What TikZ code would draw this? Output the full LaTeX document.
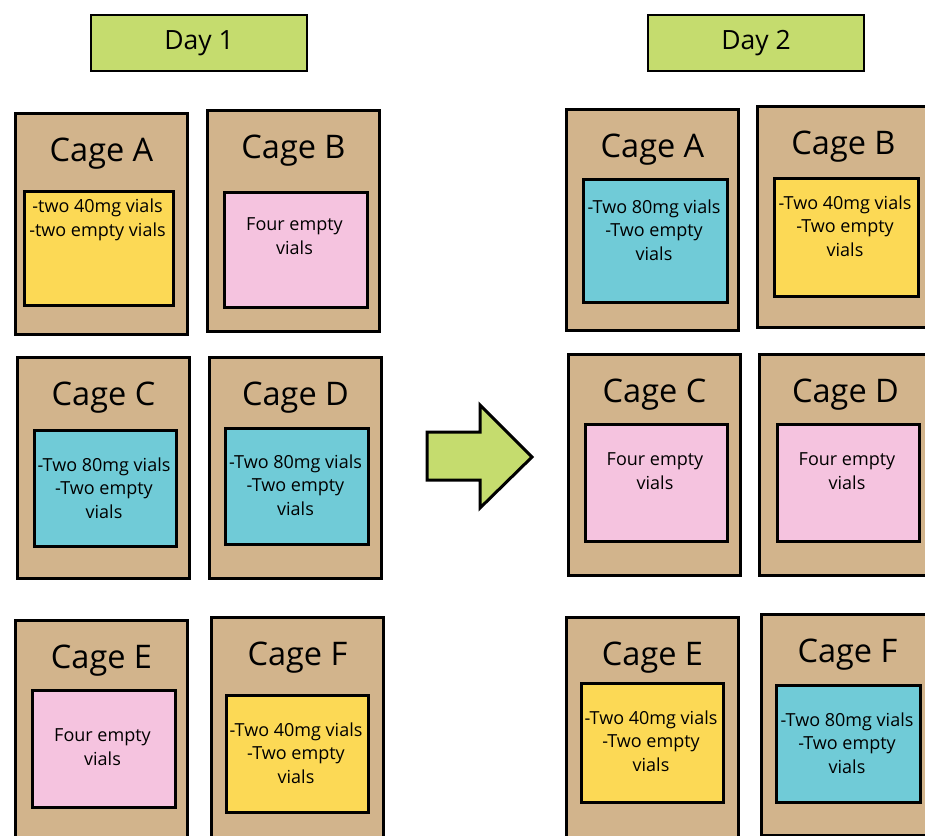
\documentclass[tikz,border=0pt]{standalone}
\usepackage{fontspec}
\setmainfont{Open Sans}
\usepackage{tikz}
\usetikzlibrary{positioning}
\definecolor{tan}{HTML}{D2B48C}
\definecolor{lime}{HTML}{C5DC6E}
\definecolor{sun}{HTML}{FCD955}
\definecolor{rose}{HTML}{F5C3DF}
\definecolor{aqua}{HTML}{70CBD7}
\tikzset{
  cage/.style={draw=black, fill=tan, line width=3pt, anchor=north west,
    minimum width=172pt, minimum height=221pt, inner sep=0pt},
  vial/.style={draw=black, line width=3pt, anchor=north west, inner sep=0pt},
  daybox/.style={draw=black, fill=lime, line width=2.5pt,
    minimum width=216pt, minimum height=56pt, font=\fontsize{26.5}{30}\selectfont},
  title/.style={font=\fontsize{32.5}{38}\selectfont},
  note/.style={align=center, font=\fontsize{18}{23.5}\selectfont},
}

\begin{document}
\begin{tikzpicture}[x=1pt, y=-1pt]
  \clip (0,0) rectangle (925,835);
  \fill[white] (0,0) rectangle (925,835);
  \node[daybox] (day1) at (199,43) {Day 1};
  \node[daybox] (day2) at (756,43) {Day 2};
  % cages: name/letter/x/y/inner x/inner y/inner w/inner h/colour/text y/text
  \foreach \n/\L/\x/\y/\ix/\iy/\iw/\ih/\col/\ty/\txt in {
      LA/A/14/112/23/190/149/114/sun/220/{-two 40mg vials\\-two empty vials},
      LB/B/206/109/223/191/143/115/rose/236/{Four empty\\vials},
      LC/C/16/356/33/429/142/116/aqua/488/{-Two 80mg vials\\-Two empty\\vials},
      LD/D/208/356/224/427/143/116/aqua/485/{-Two 80mg vials\\-Two empty\\vials},
      LE/E/14/619/31/689/143/117/rose/747/{Four empty\\vials},
      LF/F/210/616/225/694/142/117/sun/753/{-Two 40mg vials\\-Two empty\\vials},
      RA/A/565/108/582/178/144/123/aqua/230/{-Two 80mg vials\\-Two empty\\vials},
      RB/B/756/105/773/177/144/118/sun/226/{-Two 40mg vials\\-Two empty\\vials},
      RC/C/567/353/584/423/142/117/rose/471/{Four empty\\vials},
      RD/D/758/353/776/423/142/117/rose/471/{Four empty\\vials},
      RE/E/565/616/580/682/142/119/sun/741/{-Two 40mg vials\\-Two empty\\vials},
      RF/F/760/613/775/684/144/117/aqua/743/{-Two 80mg vials\\-Two empty\\vials}} {
    \node[cage] (\n) at (\x,\y) {};
    \node[title] (\n-t) at ([yshift=-42pt]\n.north) {Cage \L};
    \node[vial, fill=\col, minimum width=\iw pt, minimum height=\ih pt]
      (\n-v) at (\ix,\iy) {};
    \node[note] (\n-n) at ({\ix+\iw/2},\ty) {\txt};
  }
  \draw[line width=3pt, fill=lime, line join=miter]
    (427,432) -- (480,432) -- (480,405) -- (532,457) -- (480,508)
    -- (480,480) -- (427,480) -- cycle;
\end{tikzpicture}
\end{document}
